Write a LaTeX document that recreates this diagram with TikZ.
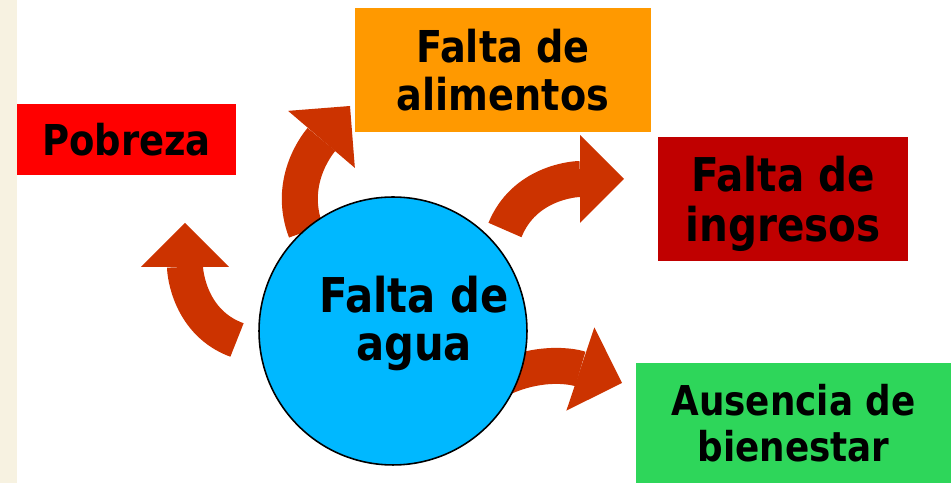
\documentclass[tikz,border=0pt]{standalone}
\usepackage{amsmath}
\usepackage{fontspec}
\setmainfont{DejaVu Sans}[FakeStretch=0.87]
\usetikzlibrary{arrows.meta}

\definecolor{arrowred}{RGB}{204,51,0}
\definecolor{waterblue}{RGB}{0,184,255}
\definecolor{boxred}{RGB}{255,0,0}
\definecolor{boxorange}{RGB}{255,153,0}
\definecolor{boxdarkred}{RGB}{192,0,0}
\definecolor{boxgreen}{RGB}{46,214,90}
\definecolor{parchment}{RGB}{247,242,225}

\begin{document}
\begin{tikzpicture}[x=0.02cm,y=0.02cm,
  effect/.style={fill=#1,inner sep=0pt,align=center},
  flow/.style={draw=arrowred,line width=20.5pt,
    -{Triangle[length=25pt,width=50pt,line width=0pt]}}]
\useasboundingbox (0,0) rectangle (951,483);
\fill[parchment] (0,0) rectangle (17,483);

% setfont boxes
\node[effect=boxred,minimum width=4.38cm,minimum height=1.42cm,
  font=\fontsize{24.2}{28}\selectfont\bfseries] (pobreza) at (126.5,343.5) {Pobreza};
\node[effect=boxorange,minimum width=5.92cm,minimum height=2.48cm,
  font=\fontsize{25}{27.3}\selectfont\bfseries] (alimentos) at (503,413) {Falta de\\alimentos};
\node[effect=boxdarkred,minimum width=5.0cm,minimum height=2.48cm,
  font=\fontsize{26.5}{28.5}\selectfont\bfseries] (ingresos) at (783,284) {Falta de\\\smash[b]{ingresos}};
\node[effect=boxgreen,minimum width=6.3cm,minimum height=2.4cm,
  font=\fontsize{23.4}{26.2}\selectfont\bfseries] (bienestar) at (793.5,60) {Ausencia de\\bienestar};

% arrows out of the circle
\coordinate (p1a) at (237,143);
\coordinate (p1b) at (185,260);
\coordinate (p2a) at (306,251.5);
\coordinate (p2b) at (350,377);
\coordinate (p3a) at (505,253);
\coordinate (p3b) at (624,304);
\coordinate (p4a) at (480,92);
\coordinate (p4b) at (622,100);
\draw[flow] (p1a) to[out=160,in=-90] (p1b);
\draw[flow] (p2a) to[out=111,in=229.5] (p2b);
\draw[flow] (p3a) to[out=68,in=180] (p3b);
\draw[flow] (p4a) to[out=35,in=161.4] (p4b);

% was here!!!
\node[circle,draw=black,line width=0.9pt,fill=waterblue,minimum size=5.36cm] (agua) at (393,152) {};
\node[align=center,font=\fontsize{27.3}{27.3}\selectfont\bfseries] (aguatxt) at (414,165)
  {Falta de\\\smash[b]{agua}};
\end{tikzpicture}
\end{document}
